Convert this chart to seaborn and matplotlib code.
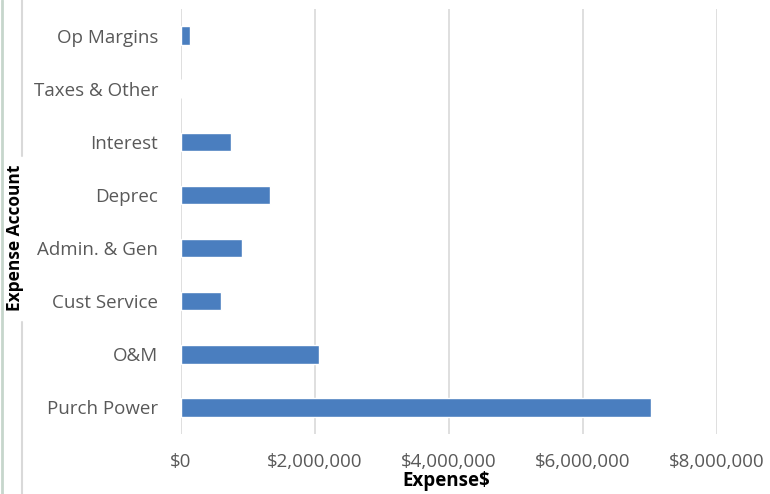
import seaborn as sns
import matplotlib.pyplot as plt
import matplotlib.ticker as mticker
import matplotlib.lines as mlines
import pandas as pd

accounts = ['Op Margins', 'Taxes & Other', 'Interest', 'Deprec', 'Admin. & Gen',
            'Cust Service', 'O&M', 'Purch Power']
expenses = [135000, 0, 750000, 1330000, 910000, 600000, 2060000, 7010000]
x_ticks = [0, 2000000, 4000000, 6000000, 8000000]

df = pd.DataFrame({'Expense Account': accounts, 'Expense$': expenses})

sns.set_style('white')
plt.rcParams['font.family'] = ['Open Sans', 'DejaVu Sans']

fig = plt.figure(figsize=(7.7, 4.94), dpi=100)
ax = fig.add_axes([0.2351, 0.1215, 0.6961, 0.8603])

sns.barplot(data=df, y='Expense Account', x='Expense$', orient='h',
            color='#4a7ebf', saturation=1, width=0.35, ax=ax)

ax.set_xlim(0, 8000000)
ax.set_xticks(x_ticks)
ax.xaxis.set_major_formatter(mticker.FuncFormatter(lambda v, p: '${:,.0f}'.format(v)))
ax.grid(axis='x', color='#d9d9d9', linewidth=1.2)
ax.set_axisbelow(True)
for s in ax.spines.values():
    s.set_visible(False)
ax.tick_params(axis='both', length=0, labelsize=13.5, colors='#595959')
ax.tick_params(axis='y', pad=16.5)
ax.tick_params(axis='x', pad=14)
ax.set_xlabel('')
ax.set_ylabel('')

fig.text(0.58, 0.027, 'Expense$', ha='center', va='center', fontsize=13.5,
         fontweight='bold', color='black')
fig.text(0.0195, 0.518, 'Expense Account', ha='center', va='center', fontsize=12.5,
         fontweight='bold', color='black', rotation=90)

# outer chart border fragments
fig.add_artist(mlines.Line2D([0.028, 0.028], [0.684, 1.0], color='#d9d9d9', lw=1.5))
fig.add_artist(mlines.Line2D([0.028, 0.028], [0.0, 0.348], color='#d9d9d9', lw=1.5))
fig.add_artist(mlines.Line2D([0.002, 0.002], [0.0, 1.0], color='#c6d6cc', lw=2))

fig.savefig('out.png', dpi=100)
